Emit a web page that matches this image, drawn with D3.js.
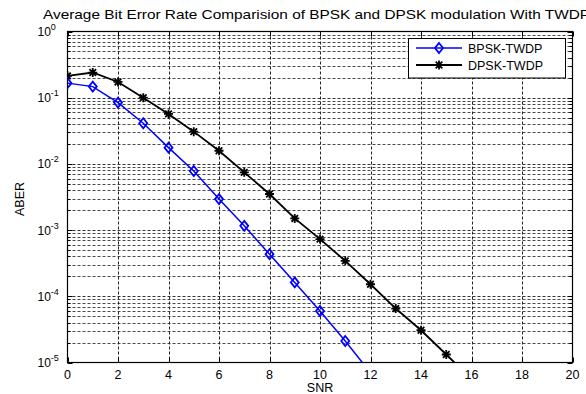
<!DOCTYPE html>
<html>
<head>
<meta charset="utf-8">
<script src="https://cdn.jsdelivr.net/npm/d3@7/dist/d3.min.js"></script>
<style>
  html, body { margin: 0; padding: 0; background: #fff; }
  svg { display: block; font-family: Arial, "Liberation Sans", sans-serif; }
</style>
</head>
<body>
<svg id="chart" width="586" height="394"></svg>
<script>
// SNR sample points (dB)
const snrBpsk = [0, 1, 2, 3, 4, 5, 6, 7, 8, 9, 10, 11, 12];
const snrDpsk = [0, 1, 2, 3, 4, 5, 6, 7, 8, 9, 10, 11, 12, 13, 14, 15, 16];
// Average bit error rate per scheme
const aberBpsk = [0.166, 0.147, 0.0843, 0.0411, 0.0176, 0.00781, 0.00294, 0.00116,
                  4.33e-4, 1.62e-4, 6.0e-5, 2.11e-5, 7.0e-6];
const aberDpsk = [0.214, 0.240, 0.173, 0.100, 0.0569, 0.0307, 0.0158, 0.00746, 0.00351,
                  0.00150, 7.31e-4, 3.43e-4, 1.52e-4, 6.53e-5, 3.07e-5, 1.32e-5, 5.6e-6];
const seriesNames = ["BPSK-TWDP", "DPSK-TWDP"];
const xTicks = [0, 2, 4, 6, 8, 10, 12, 14, 16, 18, 20];
const yExponents = [0, -1, -2, -3, -4, -5];
const titleText = "Average Bit Error Rate Comparision of BPSK and DPSK modulation With TWDP";

const svg = d3.select("#chart");
const m = { left: 67.5, right: 572.5, top: 31.5, bottom: 362.5 };
const W = m.right - m.left, H = m.bottom - m.top;

const x = d3.scaleLinear().domain([0, 20]).range([m.left, m.right]);
const y = d3.scaleLog().domain([1e-5, 1]).range([m.bottom, m.top]);

// clip for data
svg.append("defs").append("clipPath").attr("id", "plotClip")
  .append("rect").attr("x", m.left).attr("y", m.top).attr("width", W).attr("height", H);

// minor + major horizontal grid values
const minorVals = [];
for (let e = -5; e < 0; e++) for (let k = 2; k <= 9; k++) minorVals.push(k * Math.pow(10, e));
const majorVals = yExponents.map(e => Math.pow(10, e));

const grid = svg.append("g").attr("fill", "none");
grid.selectAll("line.hmin").data(minorVals).join("line")
  .attr("x1", m.left).attr("x2", m.right)
  .attr("y1", d => Math.round(y(d)) + 0.5).attr("y2", d => Math.round(y(d)) + 0.5)
  .attr("stroke", "#4a4a4a").attr("stroke-width", 1).attr("stroke-dasharray", "3,2");
grid.selectAll("line.hmaj").data(majorVals.filter(v => v > 1e-5 && v < 1)).join("line")
  .attr("x1", m.left).attr("x2", m.right)
  .attr("y1", d => Math.round(y(d)) + 0.5).attr("y2", d => Math.round(y(d)) + 0.5)
  .attr("stroke", "#333").attr("stroke-width", 1).attr("stroke-dasharray", "3,2");
grid.selectAll("line.v").data(xTicks.filter(t => t > 0 && t < 20)).join("line")
  .attr("x1", d => Math.round(x(d)) + 0.5).attr("x2", d => Math.round(x(d)) + 0.5)
  .attr("y1", m.top).attr("y2", m.bottom)
  .attr("stroke", "#222").attr("stroke-width", 1).attr("stroke-dasharray", "3,2");

// axis ticks (inward, on all four sides)
const tk = svg.append("g").attr("stroke", "#000").attr("stroke-width", 1);
xTicks.forEach(t => {
  const px = Math.round(x(t)) + 0.5;
  tk.append("line").attr("x1", px).attr("x2", px).attr("y1", m.bottom).attr("y2", m.bottom - 5);
  tk.append("line").attr("x1", px).attr("x2", px).attr("y1", m.top).attr("y2", m.top + 5);
});
majorVals.forEach(v => {
  const py = Math.round(y(v)) + 0.5;
  tk.append("line").attr("x1", m.left).attr("x2", m.left + 5).attr("y1", py).attr("y2", py);
  tk.append("line").attr("x1", m.right).attr("x2", m.right - 5).attr("y1", py).attr("y2", py);
});
minorVals.forEach(v => {
  const py = Math.round(y(v)) + 0.5;
  tk.append("line").attr("x1", m.left).attr("x2", m.left + 3).attr("y1", py).attr("y2", py);
  tk.append("line").attr("x1", m.right).attr("x2", m.right - 3).attr("y1", py).attr("y2", py);
});

// plot box
svg.append("rect").attr("x", m.left).attr("y", m.top).attr("width", W).attr("height", H)
  .attr("fill", "none").attr("stroke", "#000").attr("stroke-width", 1.2);

// x tick labels
svg.append("g").selectAll("text").data(xTicks).join("text")
  .attr("x", d => x(d)).attr("y", m.bottom + 16)
  .attr("text-anchor", "middle").attr("font-size", 12.5).attr("fill", "#000")
  .text(d => d);

// y tick labels as 10^e
const yl = svg.append("g");
yExponents.forEach(e => {
  const t = yl.append("text").attr("x", 37.5).attr("y", y(Math.pow(10, e)) + 4.5)
    .attr("font-size", 12).attr("fill", "#000");
  t.append("tspan").text("10");
  t.append("tspan").attr("dy", -6).attr("font-size", 9).text(e);
});

// axis titles
svg.append("text").attr("x", x(10)).attr("y", 391.5)
  .attr("text-anchor", "middle").attr("font-size", 12.5).text("SNR");
svg.append("text").attr("transform", `translate(24,${(m.top + m.bottom) / 2 + 2}) rotate(-90)`)
  .attr("text-anchor", "middle").attr("font-size", 12.5).text("ABER");

// title
svg.append("text").attr("x", 43).attr("y", 19)
  .attr("font-size", 13).attr("fill", "#000").attr("textLength", 547).attr("lengthAdjust", "spacingAndGlyphs")
  .text(titleText);

// data lines
const line = d3.line().x(d => x(d[0])).y(d => y(d[1]));
const bData = snrBpsk.map((s, i) => [s, aberBpsk[i]]);
const dData = snrDpsk.map((s, i) => [s, aberDpsk[i]]);
const dataG = svg.append("g").attr("clip-path", "url(#plotClip)");

dataG.append("path").datum(dData).attr("d", line)
  .attr("fill", "none").attr("stroke", "#000").attr("stroke-width", 1.8);
dataG.append("path").datum(bData).attr("d", line)
  .attr("fill", "none").attr("stroke", "#0000ff").attr("stroke-width", 1.5);

// markers
function diamond(g, cx, cy) {
  g.append("path").attr("d", `M${cx},${cy - 5}L${cx + 4},${cy}L${cx},${cy + 5}L${cx - 4},${cy}Z`)
    .attr("fill", "none").attr("stroke", "#0000ff").attr("stroke-width", 1.8);
}
function asterisk(g, cx, cy) {
  const r = 4.5, d = 3.3;
  g.append("path").attr("d",
    `M${cx - r},${cy}L${cx + r},${cy}M${cx},${cy - r}L${cx},${cy + r}` +
    `M${cx - d},${cy - d}L${cx + d},${cy + d}M${cx - d},${cy + d}L${cx + d},${cy - d}`)
    .attr("stroke", "#000").attr("stroke-width", 1.8);
}
dData.forEach(p => asterisk(dataG, x(p[0]), y(p[1])));
bData.forEach(p => diamond(dataG, x(p[0]), y(p[1])));

// legend
const lg = svg.append("g");
lg.append("rect").attr("x", 408.5).attr("y", 38.5).attr("width", 157).attr("height", 39.5)
  .attr("fill", "#fff").attr("stroke", "#000").attr("stroke-width", 1);
const rows = [{ yy: 48, color: "#0000ff", name: seriesNames[0], mk: diamond },
              { yy: 65, color: "#000", name: seriesNames[1], mk: asterisk }];
rows.forEach(r => {
  lg.append("line").attr("x1", 416).attr("x2", 462).attr("y1", r.yy).attr("y2", r.yy)
    .attr("stroke", r.color).attr("stroke-width", r.color === "#000" ? 1.8 : 1.5);
  r.mk(lg, 439, r.yy);
  lg.append("text").attr("x", 468).attr("y", r.yy + 4.5).attr("font-size", 12.5)
    .attr("fill", "#000").text(r.name);
});
</script>
</body>
</html>
